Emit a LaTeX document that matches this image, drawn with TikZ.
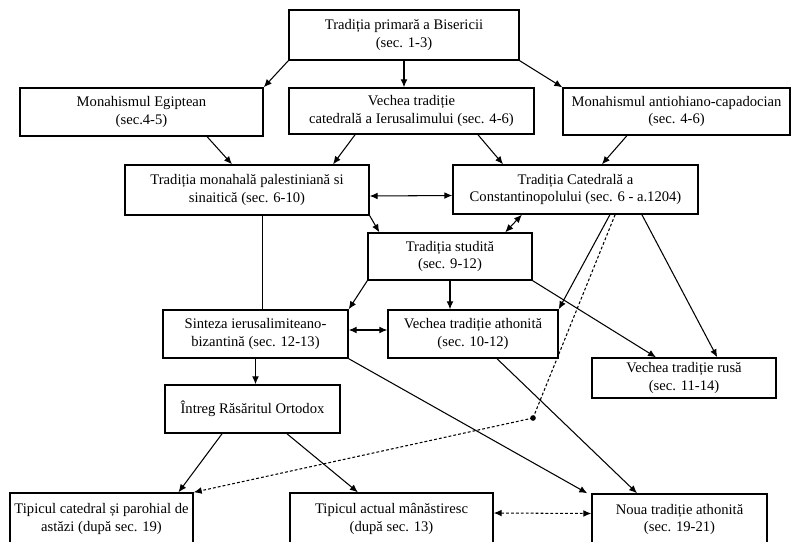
\documentclass[tikz,border=0pt]{standalone}
\usepackage{fontspec}
\setmainfont{Liberation Serif}
\usetikzlibrary{arrows.meta,calc}

\begin{document}
\begin{tikzpicture}[x=0.025cm,y=-0.025cm,
  bx/.style 2 args={draw,line width=1pt,align=center,inner sep=1pt,
    minimum width=#1*0.025cm,minimum height=#2*0.025cm,
    font=\fontsize{10.4}{12.6}\selectfont},
  ar/.style={-{Latex[length=2mm,width=1.7mm]},line width=0.75pt},
  dar/.style={{Latex[length=2mm,width=1.7mm]}-{Latex[length=2mm,width=1.7mm]},line width=0.75pt},
  dsh/.style={dashed,dash pattern=on 2pt off 1.5pt,line width=0.75pt}]
  \useasboundingbox (0,0) rectangle (800,541);
  \clip (0,0) rectangle (800,541);
  % boxes
  \node[bx={230}{50}] (prim) at (404,35) {Tradiția primară a Bisericii\\(sec. 1-3)};
  \node[bx={243}{48}] (egipt) at (141.5,112) {Monahismul Egiptean\\(sec.4-5)};
  \node[bx={245}{46}] (ierus) at (411.5,111) {Vechea tradiție\\catedrală a Ierusalimului (sec. 4-6)};
  \node[bx={227}{47}] (antioh) at (676.5,111.5) {Monahismul antiohiano-capadocian\\(sec. 4-6)};
  \node[bx={244}{50}] (palest) at (247,190) {Tradiția monahală palestiniană si\\sinaitică (sec. 6-10)};
  \node[bx={245}{49}] (constp) at (575.5,189.5) {Tradiția Catedrală a\\Constantinopolului (sec. 6 - a.1204)};
  \node[bx={164}{47}] (studit) at (450,256.5) {Tradiția studită\\(sec. 9-12)};
  \node[bx={185}{48}] (sint) at (255.5,334) {Sinteza ierusalimiteano-\\bizantină (sec. 12-13)};
  \node[bx={170}{48}] (athon) at (473,334) {Vechea tradiție athonită\\(sec. 10-12)};
  \node[bx={184}{40}] (rusa) at (684,378) {Vechea tradiție rusă\\(sec. 11-14)};
  \node[bx={175}{48}] (intreg) at (252.5,409) {Întreg Răsăritul Ortodox};
  \node[bx={183}{52}] (tipcat) at (101.5,519) {Tipicul catedral și parohial de\\astăzi (după sec. 19)};
  \node[bx={203}{52}] (tipact) at (391.5,519) {Tipicul actual mânăstiresc\\(după sec. 13)};
  \node[bx={175}{51}] (noua) at (679.5,519.5) {Noua tradiție athonită\\(sec. 19-21)};
  \coordinate (bend) at (533,418);

  % first rows
  \draw[ar] (prim.south west) -- (egipt.north east);
  \draw[ar] (prim.south) -- (prim.south |- ierus.north);
  \draw[ar] (prim.south east) -- (antioh.north west);
  \draw[ar] ([xshift=1.64cm]egipt.south) -- ([xshift=-0.375cm]palest.north);
  \draw[ar] ([xshift=-1.41cm]ierus.south) -- ([xshift=2.15cm]palest.north);
  \draw[ar] ([xshift=1.66cm]ierus.south) -- ([xshift=-1.81cm]constp.north);
  \draw[ar] ([xshift=-1.24cm]antioh.south) -- ([xshift=0.66cm]constp.north);
  \draw[dar] ([yshift=-0.15cm]palest.east) -- ([yshift=-0.15cm]constp.west);
  \draw[ar] (palest.south east) -- ([xshift=0.3cm]studit.north west);
  \draw ([xshift=0.38cm]palest.south) coordinate (pl) -- (pl |- sint.north);
  \draw[dar] ([xshift=-1.34cm]constp.south) -- ([xshift=1.38cm]studit.north);
  \draw[ar] ([xshift=0.86cm]constp.south) -- (athon.north east);
  \draw[ar] ([xshift=1.66cm]constp.south) -- ([xshift=0.83cm]rusa.north);
  % dashed link to today
  \draw[dsh] ([xshift=0.99cm]constp.south) -- (bend);
  \draw[dsh,-{Latex[length=2mm,width=1.7mm]}] (bend) -- (tipcat.north east);
  \fill (bend) circle (2pt);
  % middle
  \draw[ar] (studit.south west) -- (sint.north east);
  \draw[ar] (studit.south) -- (studit.south |- athon.north);
  \draw[ar] (studit.south east) -- ([xshift=-0.7cm]rusa.north);
  \draw[dar] ([yshift=0.1cm]sint.east) -- ([yshift=0.1cm]athon.west);
  \draw[ar] (sint.south) -- (sint.south |- intreg.north);
  \draw[ar] (sint.south east) -- ([xshift=-0.1cm]noua.north west);
  \draw[ar] ([xshift=0.6cm]athon.south) -- ([xshift=-1.06cm]noua.north);
  % bottom
  \draw[ar] ([xshift=-0.76cm]intreg.south) -- ([xshift=-0.38cm]tipcat.north east);
  \draw[ar] ([xshift=0.86cm]intreg.south) -- ([xshift=-0.84cm]tipact.north);
  \draw[dsh,{Latex[length=2mm,width=1.7mm]}-{Latex[length=2mm,width=1.7mm]}] ([yshift=0.15cm]tipact.east) -- ([yshift=0.15cm]noua.west);
\end{tikzpicture}
\end{document}
